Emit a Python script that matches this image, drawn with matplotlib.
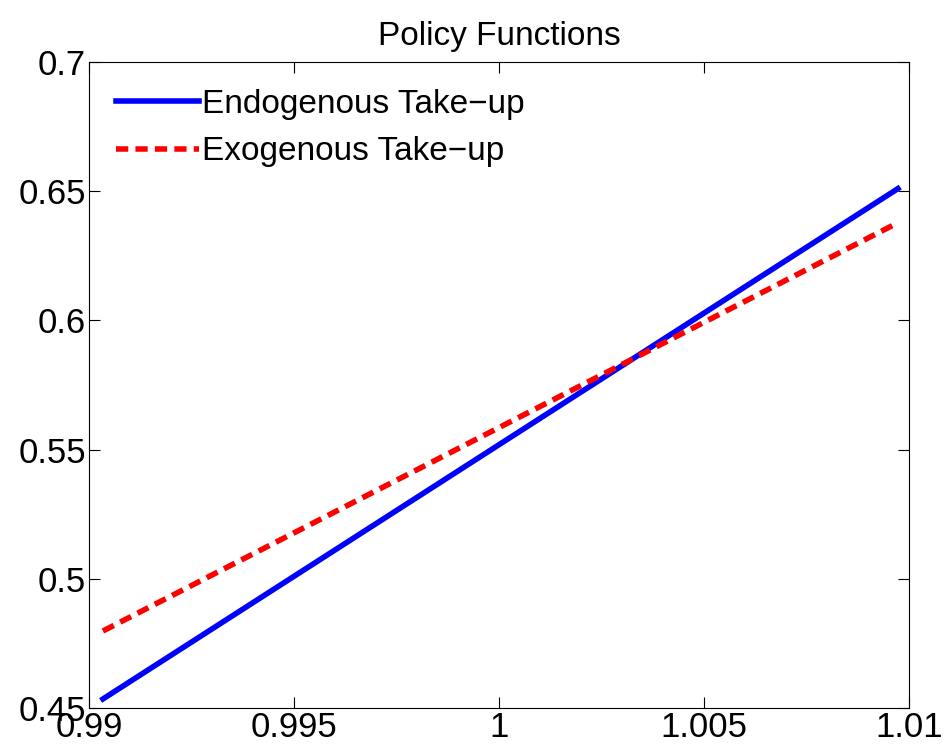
import numpy as np
import matplotlib
matplotlib.use('Agg')
import matplotlib.pyplot as plt
from matplotlib import rc
rc('font', **{'family': 'sans-serif', 'sans-serif': ['Liberation Sans', 'DejaVu Sans'], 'size': 25})

# data (two straight policy lines)
x = [0.99034, 1.00973]
endo = [0.4535, 0.651]
exo = [0.4798, 0.6378]

fig = plt.figure(figsize=(9.44, 7.54), dpi=100)
ax = fig.add_axes([89/944, 1-708/754, 820/944, 646/754])
ax.plot(x, endo, color='#0000ff', lw=4, label='Endogenous Take\u2212up')
ax.plot(x, exo, color='#ff0000', lw=4, ls=(0, (2.2, 1.3)), label='Exogenous Take\u2212up')
ax.set_xlim(0.99, 1.01)
ax.set_ylim(0.45, 0.7)
ax.set_xticks([0.99, 0.995, 1, 1.005, 1.01])
ax.set_xticklabels(['0.99', '0.995', '1', '1.005', '1.01'])
ax.set_yticks([0.45, 0.5, 0.55, 0.6, 0.65, 0.7])
ax.set_yticklabels(['0.45', '0.5', '0.55', '0.6', '0.65', '0.7'])
ax.tick_params(direction='in', top=True, right=True, length=8, pad=2)
ax.set_title('Policy Functions', fontsize=24, pad=12)
ax.legend(loc='upper left', frameon=False, handlelength=2.5, handletextpad=0.1,
          borderaxespad=0.4, labelspacing=0.5, fontsize=24)
fig.savefig('out.png', dpi=100)
